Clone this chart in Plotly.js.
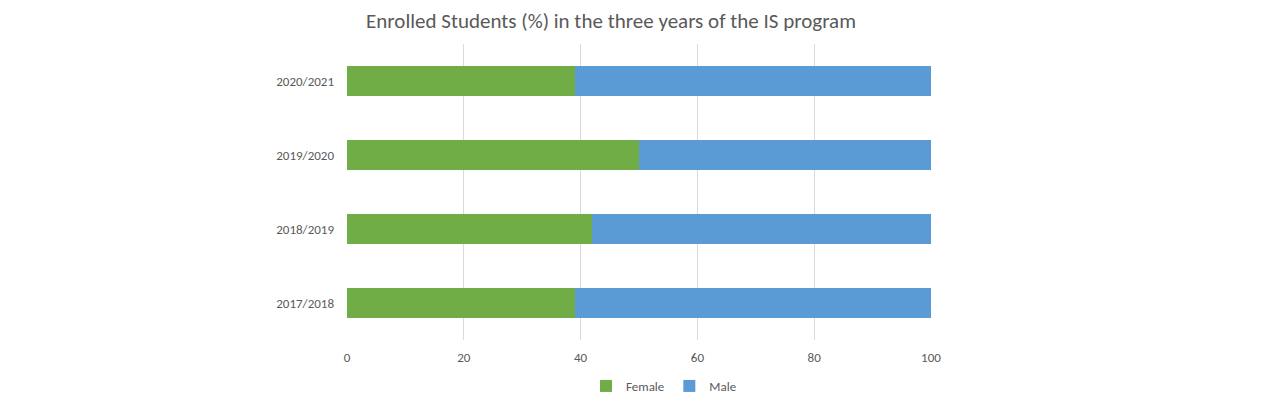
<!DOCTYPE html>
<html>
<head>
<meta charset="utf-8">
<script src="https://cdn.plot.ly/plotly-3.0.1.min.js"></script>
<style>html,body{margin:0;padding:0;background:#fff;}#chart{width:1284px;height:394px;}</style>
</head>
<body>
<div id="chart"></div>
<script>
const years = ["2017/2018", "2018/2019", "2019/2020", "2020/2021"];
const female = [39, 42, 50, 39];
const male = [61, 58, 50, 61];
const xTicks = [0, 20, 40, 60, 80, 100];

const font = "Calibri, Carlito, 'Open Sans', 'Liberation Sans', sans-serif";
const data = [
  {type: "bar", orientation: "h", name: "Female", y: years, x: female,
   marker: {color: "#70AD47"}, hoverinfo: "x+y+name"},
  {type: "bar", orientation: "h", name: "Male", y: years, x: male,
   marker: {color: "#5B9BD5"}, hoverinfo: "x+y+name"}
];
const layout = {
  width: 1284, height: 394,
  barmode: "stack", bargap: 0.595,
  margin: {l: 347, r: 353, t: 44, b: 54},
  paper_bgcolor: "#fff", plot_bgcolor: "#fff",
  font: {family: font, color: "#595959", size: 13},
  title: {text: "Enrolled Students (%) in the three years of the IS program",
          font: {size: 21, color: "#595959", family: font},
          x: 611/1284, xref: "container", xanchor: "center", y: 1 - 21/394, yref: "container", yanchor: "middle"},
  xaxis: {range: [0, 100], tickvals: xTicks, ticktext: xTicks.map(String),
          showgrid: true, gridcolor: "#D9D9D9", gridwidth: 1, zeroline: false,
          showline: false, ticks: "", ticklabelstandoff: 8,
          tickfont: {size: 13, color: "#595959"}, fixedrange: true},
  yaxis: {categoryorder: "array", categoryarray: years, showgrid: false, zeroline: false,
          showline: false, ticks: "", ticklabelstandoff: 12,
          tickfont: {size: 13, color: "#595959"}, fixedrange: true},
  showlegend: true,
  legend: {orientation: "h", xref: "container", x: 664/1284, xanchor: "center",
           yref: "container", y: 1 - 386/394, yanchor: "middle",
           font: {size: 13, color: "#595959"}, itemwidth: 30, traceorder: "normal"}
};
Plotly.newPlot("chart", data, layout, {displayModeBar: false});
</script>
</body>
</html>
